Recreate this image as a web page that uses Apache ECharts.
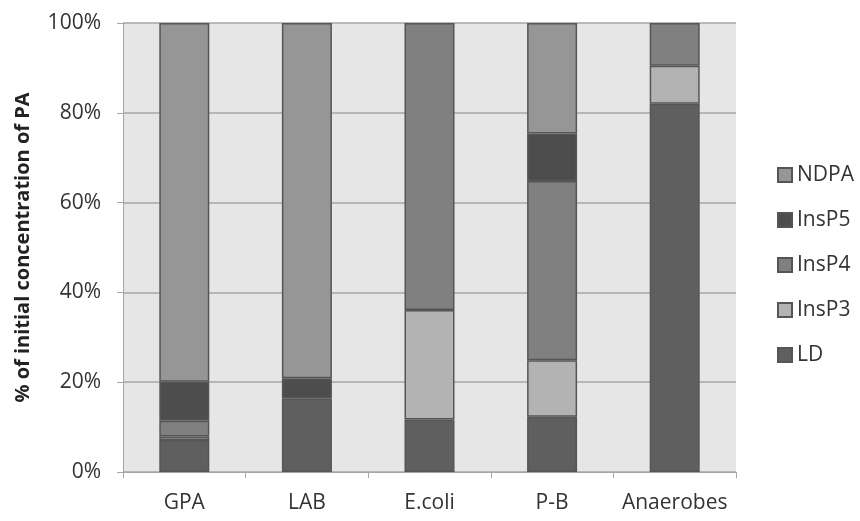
<!DOCTYPE html>
<html>
<head>
<meta charset="utf-8">
<script src="https://cdn.jsdelivr.net/npm/echarts@6/dist/echarts.min.js"></script>
<style>
  html, body { margin: 0; padding: 0; background: #fff; }
  #chart { width: 860px; height: 521px; }
</style>
</head>
<body>
<div id="chart"></div>
<script>
// categories and stacked shares (% of initial PA)
const groups = ['GPA', 'LAB', 'E.coli', 'P-B', 'Anaerobes']
const ld = [7.1, 16.4, 11.7, 12.3, 82.0]
const insP3 = [0.8, '-', 24.4, 12.6, 8.5]
const insP4 = [3.5, '-', 63.9, 39.9, 9.5]
const insP5 = [8.7, 4.5, '-', 10.6, '-']
const ndpa = [79.9, 79.1, '-', 24.6, '-']

const legendOrder = ['NDPA', 'InsP5', 'InsP4', 'InsP3', 'LD']

const font = '"Open Sans", "Noto Sans", sans-serif'

const makeSeries = (name, data, color) => ({
  name: name,
  type: 'bar',
  stack: 'pa',
  data: data,
  barWidth: 50,
  itemStyle: {
    color: color,
    borderColor: '#555555',
    borderWidth: 1.5
  }
})

const chart = echarts.init(document.getElementById('chart'))

chart.setOption({
  animation: false,
  textStyle: { fontFamily: font },
  grid: {
    left: 123,
    right: 124,
    top: 23,
    bottom: 49,
    show: true,
    backgroundColor: '#e6e6e6',
    borderWidth: 0
  },
  legend: {
    orient: 'vertical',
    left: 777,
    top: 164,
    padding: 0,
    data: legendOrder,
    icon: 'rect',
    itemWidth: 14,
    itemHeight: 14,
    itemGap: 23,
    textStyle: { fontFamily: font, fontSize: 21, color: '#333333', lineHeight: 22 }
  },
  xAxis: {
    type: 'category',
    data: groups,
    axisLine: { lineStyle: { color: '#a6a6a6', width: 1 } },
    axisTick: { show: true, length: 6, alignWithLabel: false, lineStyle: { color: '#a6a6a6' } },
    axisLabel: { interval: 0, fontFamily: font, fontSize: 21, color: '#333333', margin: 21 }
  },
  yAxis: {
    type: 'value',
    min: 0,
    max: 100,
    interval: 20,
    name: '% of initial concentration of PA',
    nameLocation: 'middle',
    nameGap: 90,
    nameTextStyle: { fontFamily: font, fontSize: 20, fontWeight: 'bold', color: '#222222' },
    axisLine: { show: true, lineStyle: { color: '#a6a6a6', width: 1 } },
    axisTick: { show: true, length: 6, lineStyle: { color: '#a6a6a6' } },
    axisLabel: { fontFamily: font, fontSize: 21, color: '#333333', margin: 22, formatter: '{value}%' },
    splitLine: { lineStyle: { color: '#a6a6a6', width: 1.5 } }
  },
  series: [
    makeSeries('LD', ld, '#5f5f5f'),
    makeSeries('InsP3', insP3, '#b3b3b3'),
    makeSeries('InsP4', insP4, '#808080'),
    makeSeries('InsP5', insP5, '#4d4d4d'),
    makeSeries('NDPA', ndpa, '#969696')
  ]
})
</script>
</body>
</html>
